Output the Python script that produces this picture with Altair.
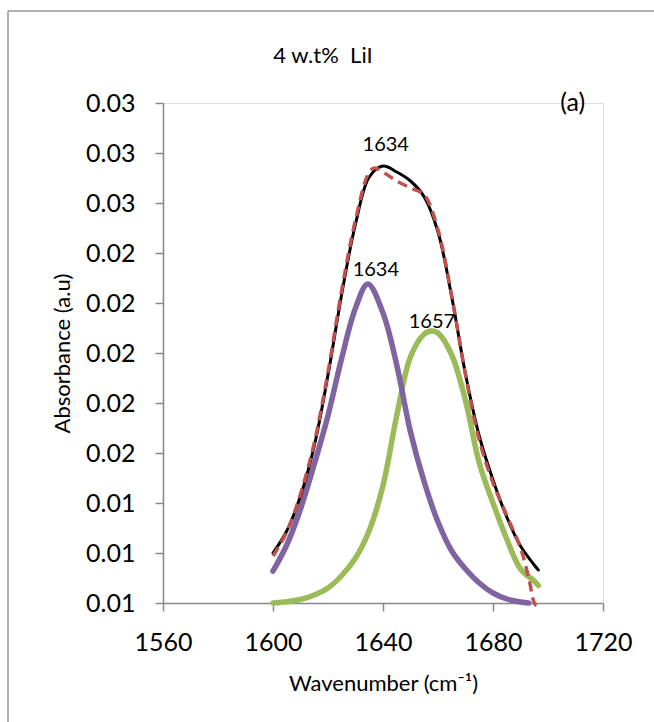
import altair as alt
import pandas as pd

# ---- data ----
x_total = [1600, 1605, 1610, 1615, 1620, 1625, 1630, 1635, 1640, 1645, 1650,
           1655, 1660, 1665, 1670, 1675, 1680, 1685, 1690, 1695, 1696.5]
y_total = [0.0120, 0.01288, 0.01428, 0.01628, 0.01912, 0.02236, 0.02516, 0.02704,
           0.02748, 0.02724, 0.02688, 0.02624, 0.02484, 0.02224, 0.01916, 0.01668,
           0.01492, 0.01344, 0.01228, 0.01152, 0.01132]

x_fit = [1600, 1605, 1610, 1615, 1620, 1625, 1630, 1635, 1637, 1640, 1645, 1650,
         1655, 1660, 1665, 1670, 1675, 1680, 1685, 1690, 1693, 1695, 1695.8]
y_fit = [0.01188, 0.01284, 0.01436, 0.0164, 0.01924, 0.02252, 0.02532, 0.02724,
         0.0274, 0.02724, 0.02688, 0.0266, 0.02632, 0.02492, 0.02228, 0.01912,
         0.01652, 0.0148, 0.0135, 0.0122, 0.0110, 0.0100, 0.0099]

x_p1 = [1600, 1605, 1610, 1615, 1620, 1625, 1630, 1634.5, 1640, 1645, 1650, 1655,
        1660, 1665, 1670, 1675, 1680, 1685, 1690, 1693]
y_p1 = [0.01128, 0.01232, 0.01376, 0.01555, 0.0175, 0.0198, 0.0218, 0.02276,
        0.02160, 0.01952, 0.01684, 0.01484, 0.01324, 0.01208, 0.01136, 0.0108,
        0.0104, 0.01016, 0.01004, 0.0100]

x_p2 = [1600, 1605, 1610, 1615, 1620, 1625, 1630, 1635, 1640, 1645, 1650, 1655,
        1657.8, 1660, 1665, 1670, 1675, 1680, 1685, 1690, 1695, 1696.5]
y_p2 = [0.0100, 0.01005, 0.01014, 0.01032, 0.0106, 0.0111, 0.0118, 0.0129,
        0.0147, 0.0175, 0.01985, 0.02076, 0.02088, 0.0208, 0.01992, 0.0181,
        0.0156, 0.0140, 0.01256, 0.01136, 0.01088, 0.0107]

label_text = ["1634", "1634", "1657", "(a)"]
label_x = [1641, 1637.4, 1657.8, 1709]
label_y = [0.02832, 0.02332, 0.02124, 0.0300]
label_size = [20, 20, 20, 25]

x_ticks = [1560, 1600, 1640, 1680, 1720]
y_ticks = [0.010, 0.012, 0.014, 0.016, 0.018, 0.020, 0.022, 0.024, 0.026, 0.028, 0.030]

FONT = "Lato"
AXIS_COLOR = "#888888"

def frame(xs, ys, name):
    return pd.DataFrame({"x": xs, "y": ys, "s": name})

xscale = alt.Scale(domain=[1560, 1720], nice=False, zero=False)
yscale = alt.Scale(domain=[0.010, 0.030], nice=False, zero=False)

xaxis = alt.Axis(values=x_ticks, title="Wavenumber (cm⁻¹)", grid=False,
                 domainColor=AXIS_COLOR, tickColor=AXIS_COLOR, tickSize=8,
                 labelFont=FONT, labelFontSize=25, labelColor="black",
                 labelPadding=19, titleFont=FONT, titleFontSize=22,
                 titleFontWeight="normal", titleColor="black", titlePadding=18,
                 format="d", labelFlush=False, domainWidth=1.5, tickWidth=1.5)
yaxis = alt.Axis(values=y_ticks, title="Absorbance (a.u)", grid=False,
                 domainColor=AXIS_COLOR, tickColor=AXIS_COLOR, tickSize=8,
                 labelFont=FONT, labelFontSize=25, labelColor="black",
                 labelPadding=20, titleFont=FONT, titleFontSize=22,
                 titleFontWeight="normal", titleColor="black", titlePadding=11,
                 format=".2f", labelFlush=False, domainWidth=1.5, tickWidth=1.5)

enc_x = alt.X("x:Q", scale=xscale, axis=xaxis)
enc_y = alt.Y("y:Q", scale=yscale, axis=yaxis)

def line(df, color, width, dash=None):
    kw = dict(color=color, strokeWidth=width, interpolate="catmull-rom", clip=False,
              strokeCap="round")
    if dash:
        kw["strokeDash"] = dash
        kw["strokeCap"] = "butt"
    return alt.Chart(df).mark_line(**kw).encode(x=enc_x, y=enc_y, order="x:Q")

green = line(frame(x_p2, y_p2, "1657"), "#9BBB59", 5.5)
purple = line(frame(x_p1, y_p1, "1634"), "#8064A2", 5.5)
black = line(frame(x_total, y_total, "total"), "black", 3)
red = line(frame(x_fit, y_fit, "fit"), "#C0504D", 3.5, dash=[10, 6])

labels = alt.Chart(pd.DataFrame({"t": label_text, "x": label_x, "y": label_y,
                                 "sz": label_size})).mark_text(
    font=FONT, color="black", baseline="middle", align="center").encode(
    x=enc_x, y=enc_y,
    text="t:N",
    size=alt.Size("sz:Q", scale=None, legend=None))

title = alt.Chart(pd.DataFrame({"t": ["4 w.t%\u00a0 LiI"]})).mark_text(
    font=FONT, fontSize=22, color="black", align="center", baseline="middle").encode(
    text="t:N", x=alt.value(160), y=alt.value(-47))

border = alt.Chart(pd.DataFrame({"a": [0]})).mark_rule(
    color="#999999", strokeWidth=1.5).encode(
    x=alt.value(-155), x2=alt.value(-155), y=alt.value(-92), y2=alt.value(620))
border_top = alt.Chart(pd.DataFrame({"a": [0]})).mark_rule(
    color="#999999", strokeWidth=1.5).encode(
    x=alt.value(-155), x2=alt.value(500), y=alt.value(-92), y2=alt.value(-92))

chart = alt.layer(green, purple, black, red, labels, title, border, border_top).properties(
    width=440, height=500,
    padding={"left": 163, "top": 103, "right": 51, "bottom": 119},
    autosize=alt.AutoSizeParams(type="none"),
).configure_view(strokeWidth=0, stroke="transparent").configure(background="white")

chart.save("out.html", embed_options={"renderer": "svg", "actions": False})
